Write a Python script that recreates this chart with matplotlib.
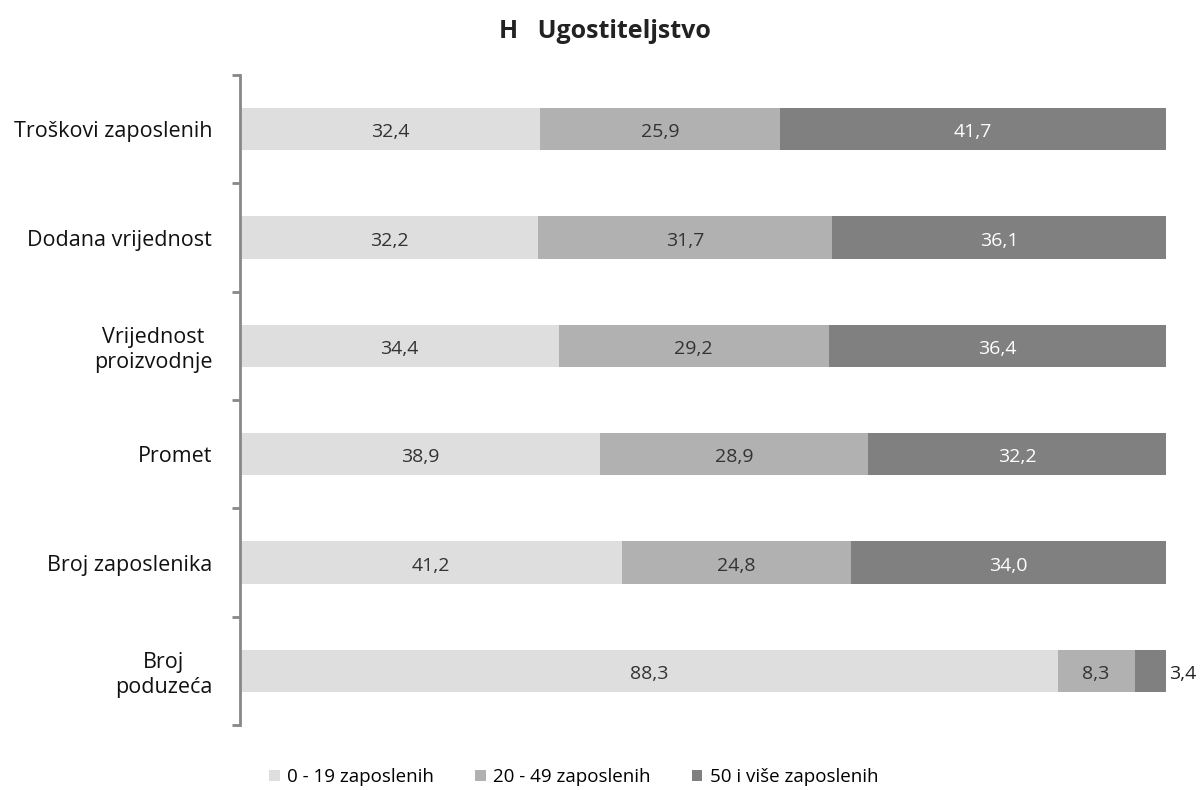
import numpy as np
import matplotlib.pyplot as plt
from matplotlib.patches import Patch

plt.rcParams.update({
    "font.family": ["Open Sans", "DejaVu Sans"],
    "font.size": 12,
})

# podaci (od vrha prema dnu)
categories = ['Troškovi zaposlenih', 'Dodana vrijednost', 'Vrijednost\nproizvodnje',
              'Promet', 'Broj zaposlenika', 'Broj\npoduzeća']
small = [32.4, 32.2, 34.4, 38.9, 41.2, 88.3]
medium = [25.9, 31.7, 29.2, 28.9, 24.8, 8.3]
large = [41.7, 36.1, 36.4, 32.2, 34.0, 3.4]
series_names = ['0 - 19 zaposlenih', '20 - 49 zaposlenih', '50 i više zaposlenih']

COLORS = ['#dedede', '#b1b1b1', '#808080']
TEXT_COLORS = ['#333333', '#333333', 'white']

fig = plt.figure(figsize=(12.03, 7.9), dpi=100)
ax = fig.add_axes([240 / 1203, 1 - 725 / 790, 926 / 1203, 650 / 790])

y = np.arange(len(categories))
left = np.zeros(len(categories))
for vals, col, tcol in zip([small, medium, large], COLORS, TEXT_COLORS):
    vals = np.array(vals)
    ax.barh(y, vals, left=left, height=0.39, color=col, edgecolor='none')
    for yi, l, v in zip(y, left, vals):
        txt = f'{v:.1f}'.replace('.', ',')
        if v < 5:
            ax.text(l + v + 0.3, yi + 0.03, txt, ha='left', va='center',
                    color='#222222', fontsize=14)
        else:
            ax.text(l + v / 2, yi + 0.03, txt, ha='center', va='center',
                    color=tcol, fontsize=14)
    left = left + vals

ax.set_xlim(0, 100)
ax.set_ylim(len(categories) - 0.5, -0.5)
ax.set_xticks([])
ax.set_yticks(y)
ax.set_yticklabels(categories, multialignment='center', fontsize=15.5)
ax.set_yticks(np.arange(-0.5, len(categories)), minor=True)
ax.tick_params(axis='y', which='major', length=0, pad=20, colors='#111111')
ax.tick_params(axis='y', which='minor', length=6, width=2, color='#888888',
               direction='out')

for s in ['top', 'right', 'bottom']:
    ax.spines[s].set_visible(False)
ax.spines['left'].set_color('#888888')
ax.spines['left'].set_linewidth(2)

fig.text(0.503, 1 - 31 / 790, 'H   Ugostiteljstvo', ha='center', va='center',
         fontsize=18, fontweight='bold', color='#222222')

handles = [Patch(facecolor=c, edgecolor='none') for c in COLORS]
fig.legend(handles, series_names, loc='center', ncol=3, frameon=False,
           bbox_to_anchor=(0.477, 1 - 777 / 790), fontsize=13.5,
           handlelength=0.55, handleheight=0.55, handletextpad=0.4,
           columnspacing=2.2)

fig.savefig('out.png', dpi=100)
